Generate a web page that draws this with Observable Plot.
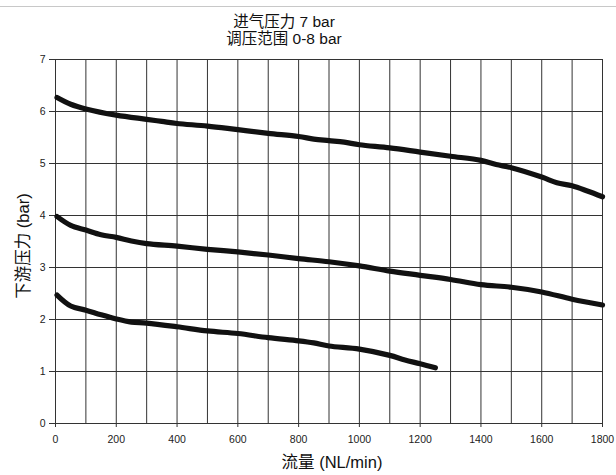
<!DOCTYPE html>
<html><head><meta charset="utf-8">
<script src="https://cdn.jsdelivr.net/npm/d3@7"></script>
<script src="https://cdn.jsdelivr.net/npm/@observablehq/plot@0.6"></script>
<style>
body{margin:0;background:#fff;}
#wrap{position:relative;width:616px;height:475px;font-family:"Liberation Sans",Arial,"Noto Sans CJK SC",sans-serif;color:#111;}
#topline{position:absolute;left:0;top:6px;width:616px;height:0;border-top:1.5px solid #c8c8c8;}
#title{position:absolute;left:134px;top:13px;width:300px;text-align:center;font-size:15.5px;line-height:17px;}
#ylab{position:absolute;left:22px;top:246px;transform:translate(-50%,-50%) rotate(-90deg);white-space:nowrap;font-size:16.5px;}
#xlab{position:absolute;left:332px;top:453px;transform:translateX(-50%);white-space:nowrap;font-size:16.5px;line-height:19px;}
#chart{position:absolute;left:0;top:0;}
</style></head><body>
<div id="wrap">
  <div id="chart"></div>
  <div id="topline"></div>
  <div id="title">进气压力 7 bar<br>调压范围 0-8 bar</div>
  <div id="ylab">下游压力 (bar)</div>
  <div id="xlab">流量 (NL/min)</div>
</div>
<script>
const flow1 = [5,50,100,200,300,350,400,500,600,700,800,850,900,950,1000,1100,1200,1300,1400,1450,1500,1600,1650,1700,1750,1800];
const p1    = [6.27,6.14,6.05,5.93,5.85,5.81,5.77,5.72,5.65,5.58,5.52,5.47,5.44,5.41,5.36,5.30,5.22,5.14,5.06,4.98,4.92,4.74,4.63,4.57,4.47,4.36];
const flow2 = [5,50,100,150,200,250,300,400,500,600,700,800,900,1000,1100,1200,1300,1400,1500,1600,1700,1800];
const p2    = [3.98,3.81,3.72,3.63,3.58,3.51,3.46,3.41,3.35,3.30,3.24,3.17,3.11,3.03,2.93,2.85,2.77,2.67,2.62,2.53,2.39,2.28];
const flow3 = [5,50,100,150,200,250,300,400,500,600,700,800,850,900,1000,1100,1150,1200,1250];
const p3    = [2.47,2.26,2.18,2.09,2.01,1.95,1.93,1.86,1.78,1.73,1.65,1.59,1.55,1.49,1.43,1.31,1.22,1.15,1.07];
const xTicks = [0,200,400,600,800,1000,1200,1400,1600,1800];
const xGrid = d3.range(0, 1801, 100);
const yTicks = [0,1,2,3,4,5,6,7];

const series = [
  {name: "high", flow: flow1, p: p1},
  {name: "mid", flow: flow2, p: p2},
  {name: "low", flow: flow3, p: p3}
];
const rows = series.flatMap(s => s.flow.map((f, i) => ({s: s.name, flow: f, p: s.p[i]})));

const chart = Plot.plot({
  width: 616, height: 475,
  marginLeft: 55, marginRight: 14, marginTop: 59, marginBottom: 52,
  style: {fontFamily: '"Liberation Sans", Arial, sans-serif', fontSize: "10.5px", color: "#222", background: "transparent"},
  x: {type: "linear", domain: [0, 1800]},
  y: {type: "linear", domain: [0, 7]},
  marks: [
    Plot.ruleX(xGrid, {x: d => d, stroke: "#333", strokeWidth: 1}),
    Plot.ruleY(yTicks, {y: d => d, stroke: "#333", strokeWidth: 1}),
    Plot.axisX({ticks: xTicks, tickFormat: "d", tickSize: 4, tickPadding: 8, label: null, stroke: "#333"}),
    Plot.axisY({ticks: yTicks, tickFormat: "d", tickSize: 6, tickPadding: 4, label: null, stroke: "#333"}),
    Plot.line(rows, {x: "flow", y: "p", z: "s", curve: "catmull-rom", stroke: "#111", strokeWidth: 5.2, strokeLinecap: "round", strokeLinejoin: "round"})
  ]
});
document.getElementById("chart").appendChild(chart);
</script>
</body></html>
